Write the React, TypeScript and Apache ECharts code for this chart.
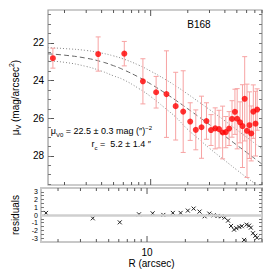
import React, { useEffect, useRef } from 'react';
import * as echarts from 'echarts';

// Observed profile (R in arcsec, mu_V in mag/arcsec^2)
const R = [1.61, 3.75, 6.11, 8.65, 11.07, 13.43, 15.95, 18.36, 20.92, 23.23, 25.85, 28.35, 30.86, 33.37, 35.86, 38.34, 40.7, 43.28, 45.7, 48.25, 50.3, 53.1, 55.55, 57.9, 60.45, 63.3, 65.4, 68.0, 70.9, 73.1];
const MU = [22.81, 22.59, 22.57, 24.04, 24.62, 24.72, 25.36, 25.65, 26.18, 26.62, 26.48, 26.15, 26.63, 26.54, 26.58, 26.76, 26.74, 26.55, 26.04, 25.66, 26.03, 26.22, 26.42, 24.97, 26.67, 26.37, 26.81, 25.65, 26.29, 25.54];
const ERR = [0.53, 0.91, 0.65, 1.2, 0.84, 2.3, 1.8, 2.17, 1.0, 1.06, 1.65, 0.97, 0.82, 1.09, 1.0, 1.4, 0.83, 0.9, 0.97, 1.2, 1.6, 1.09, 2.2, 2.24, 2.48, 1.77, 1.46, 1.42, 1.72, 1.1];
const RESID = [0.27, -0.43, -0.95, 0.09, 0.22, 0.01, 0.27, 0.27, 0.57, 0.83, 0.44, -0.17, 0.18, -0.04, -0.12, -0.17, -0.34, -0.73, -1.42, -1.9, -1.71, -1.55, -1.45, -3.23, -1.25, -1.38, -1.64, -2.36, -2.69, -2.95];

// Fitted curves
const CURVE_R = [1.47, 2, 3, 4, 5, 6, 8, 10, 13, 16, 20, 25, 30, 40, 50, 60, 70, 80];
const FIT = [22.58, 22.65, 22.81, 23.0, 23.21, 23.42, 23.82, 24.18, 24.65, 25.05, 25.5, 25.96, 26.34, 26.95, 27.43, 27.82, 28.15, 28.44];
const UPPER = [22.25, 22.3, 22.4, 22.54, 22.69, 22.85, 23.18, 23.5, 23.92, 24.29, 24.72, 25.17, 25.54, 26.14, 26.62, 27.01, 27.34, 27.63];
const LOWER_R = [1.47, 2, 3, 4, 5, 6, 8, 10, 13, 16, 20, 25, 30, 40, 50, 60, 70];
const LOWER = [22.96, 23.03, 23.25, 23.5, 23.75, 23.95, 24.42, 24.85, 25.45, 25.95, 26.6, 27.15, 27.6, 28.25, 28.75, 29.15, 29.47];

// Axis ticks and labels
const X_TICKS = [2, 3, 4, 5, 6, 7, 8, 9, 10, 20, 30, 40, 50, 60, 70, 80];
const X_LABELS = [10];
const MU_LABELS = [22, 24, 26, 28];
const MU_MINOR = [20.5, 21, 21.5, 22, 22.5, 23, 23.5, 24, 24.5, 25, 25.5, 26, 26.5, 27, 27.5, 28, 28.5, 29, 29.5];
const RES_LABELS = [-3, -2, -1, 0, 1, 2, 3];
const RES_MINOR = [-3, -2.5, -2, -1.5, -1, -0.5, 0, 0.5, 1, 1.5, 2, 2.5, 3];

const FONT = 'Liberation Sans, Arial, sans-serif';

export default function App() {
  const ref = useRef<HTMLDivElement>(null);
  useEffect(() => {
    if (!ref.current) return;
    const chart = echarts.init(ref.current, undefined, { renderer: 'svg' });
    const xCommon = {
      type: 'log' as const,
      logBase: 10,
      min: 1.47,
      max: 80,
      axisLine: { show: false },
      axisTick: { show: false },
      splitLine: { show: false },
    };
    const tickRender = () => (params: any, api: any) => {
      const v = api.value(0);
      const p = api.coord([v, api.value(1)]);
      const cs = params.coordSys;
      const major = X_LABELS.indexOf(v) >= 0;
      const len = major ? 6 : 3;
      const style = { stroke: '#555', lineWidth: 1 };
      return {
        type: 'group',
        children: [
          { type: 'line', shape: { x1: p[0], y1: cs.y + cs.height, x2: p[0], y2: cs.y + cs.height - len }, style },
          { type: 'line', shape: { x1: p[0], y1: cs.y, x2: p[0], y2: cs.y + len }, style },
        ],
      };
    };
    const option: any = {
      animation: false,
      grid: [
        { left: 41, top: 10, right: 8, height: 175, show: true, borderColor: '#999', borderWidth: 1.2 },
        { left: 41, top: 188, right: 8, height: 54, show: true, borderColor: '#c8c8c8', borderWidth: 2 },
      ],
      xAxis: [
        { ...xCommon, gridIndex: 0, axisLabel: { show: false } },
        {
          ...xCommon,
          gridIndex: 1,
          axisLabel: {
            color: '#000', fontSize: 10, fontFamily: FONT, margin: 5,
            formatter: (v: number) => (X_LABELS.some((l) => Math.abs(l - v) < 1e-6) ? String(Math.round(v)) : ''),
          },
          name: 'R (arcsec)',
          nameLocation: 'middle',
          nameGap: 16,
          nameTextStyle: { color: '#000', fontSize: 10, fontFamily: FONT },
        },
      ],
      yAxis: [
        {
          gridIndex: 0, type: 'value', inverse: true, min: 20.25, max: 29.55, position: 'left',
          axisLine: { show: false }, splitLine: { show: false },
          axisTick: { show: true, inside: true, length: 6, customValues: MU_LABELS, lineStyle: { color: '#555' } },
          axisLabel: { customValues: MU_LABELS, color: '#000', fontSize: 10, fontFamily: FONT, margin: 4 },
          name: '{a|μ}{s|V}{a| (mag/arcsec}{p|2}{a|)}',
          nameLocation: 'middle', nameGap: 22, nameRotate: 90,
          nameTextStyle: {
            color: '#000', fontFamily: FONT,
            rich: {
              a: { fontSize: 10, fontFamily: FONT, color: '#000', lineHeight: 14, verticalAlign: 'middle' },
              s: { fontSize: 7, fontFamily: FONT, color: '#000', lineHeight: 14, verticalAlign: 'bottom' },
              p: { fontSize: 7, fontFamily: FONT, color: '#000', lineHeight: 14, verticalAlign: 'top' },
            },
          },
        },
        {
          gridIndex: 0, type: 'value', inverse: true, min: 20.25, max: 29.55, position: 'left',
          axisLine: { show: false }, splitLine: { show: false }, axisLabel: { show: false },
          axisTick: { show: true, inside: true, length: 3, customValues: MU_MINOR, lineStyle: { color: '#777' } },
        },
        {
          gridIndex: 0, type: 'value', inverse: true, min: 20.25, max: 29.55, position: 'right',
          axisLine: { show: false }, splitLine: { show: false }, axisLabel: { show: false },
          axisTick: { show: true, inside: true, length: 3, customValues: MU_MINOR, lineStyle: { color: '#777' } },
        },
        {
          gridIndex: 1, type: 'value', min: -3.5, max: 3.5, position: 'left',
          axisLine: { show: false }, splitLine: { show: false },
          axisTick: { show: true, inside: true, length: 3, customValues: RES_MINOR, lineStyle: { color: '#777' } },
          axisLabel: { customValues: RES_LABELS, color: '#000', fontSize: 7, lineHeight: 7, fontFamily: FONT, margin: 3, hideOverlap: false },
          name: 'residuals', nameLocation: 'middle', nameGap: 20,
          nameTextStyle: { color: '#000', fontSize: 10, fontFamily: FONT },
        },
        {
          gridIndex: 1, type: 'value', min: -3.5, max: 3.5, position: 'right',
          axisLine: { show: false }, splitLine: { show: false }, axisLabel: { show: false },
          axisTick: { show: true, inside: true, length: 3, customValues: RES_MINOR, lineStyle: { color: '#777' } },
        },
      ],
      series: [
        {
          type: 'line', xAxisIndex: 0, yAxisIndex: 0, showSymbol: false, smooth: true,
          data: CURVE_R.map((r, i) => [r, UPPER[i]]),
          lineStyle: { color: '#888', width: 1, type: [1, 2] }, z: 2,
        },
        {
          type: 'line', xAxisIndex: 0, yAxisIndex: 0, showSymbol: false, smooth: true,
          data: CURVE_R.map((r, i) => [r, FIT[i]]),
          lineStyle: { color: '#666', width: 1, type: [5, 3] }, z: 2,
        },
        {
          type: 'line', xAxisIndex: 0, yAxisIndex: 0, showSymbol: false, smooth: true,
          data: LOWER_R.map((r, i) => [r, LOWER[i]]),
          lineStyle: { color: '#888', width: 1, type: [1, 2] }, z: 2,
        },
        {
          type: 'custom', xAxisIndex: 0, yAxisIndex: 0, z: 3,
          data: R.map((r, i) => [r, MU[i] - ERR[i], MU[i] + ERR[i]]),
          renderItem: (params: any, api: any) => {
            const x = api.value(0);
            const a = api.coord([x, api.value(1)]);
            const b = api.coord([x, api.value(2)]);
            const style = { stroke: '#f7a3a3', lineWidth: 1 };
            const w = 2.5;
            return {
              type: 'group',
              children: [
                { type: 'line', shape: { x1: a[0], y1: a[1], x2: b[0], y2: b[1] }, style },
                { type: 'line', shape: { x1: a[0] - w, y1: a[1], x2: a[0] + w, y2: a[1] }, style },
                { type: 'line', shape: { x1: b[0] - w, y1: b[1], x2: b[0] + w, y2: b[1] }, style },
              ],
            };
          },
        },
        {
          type: 'scatter', xAxisIndex: 0, yAxisIndex: 0, z: 4,
          symbol: 'circle', symbolSize: 6,
          itemStyle: { color: '#ff0000' },
          data: R.map((r, i) => [r, MU[i]]),
        },
        {
          type: 'custom', xAxisIndex: 0, yAxisIndex: 0, z: 5,
          data: X_TICKS.map((t) => [t, 25]),
          renderItem: tickRender(),
        },
        {
          type: 'custom', xAxisIndex: 1, yAxisIndex: 3, z: 5,
          data: X_TICKS.map((t) => [t, 0]),
          renderItem: tickRender(),
        },
        {
          type: 'custom', xAxisIndex: 1, yAxisIndex: 3, z: 4,
          data: R.map((r, i) => [r, RESID[i]]),
          renderItem: (params: any, api: any) => {
            const p = api.coord([api.value(0), api.value(1)]);
            const h = 2;
            const style = { stroke: '#222', lineWidth: 1 };
            return {
              type: 'group',
              children: [
                { type: 'line', shape: { x1: p[0] - h, y1: p[1] - h, x2: p[0] + h, y2: p[1] + h }, style },
                { type: 'line', shape: { x1: p[0] - h, y1: p[1] + h, x2: p[0] + h, y2: p[1] - h }, style },
              ],
            };
          },
          markLine: {
            silent: true, symbol: 'none', label: { show: false },
            lineStyle: { color: '#cfcfcf', width: 2.5, type: 'solid' },
            data: [{ yAxis: 0 }],
          },
        },
      ],
      graphic: [
        {
          type: 'text', x: 199, y: 24, z: 10,
          style: { text: 'B168', fontSize: 10, fontFamily: FONT, fill: '#000', align: 'center', verticalAlign: 'middle' },
        },
        {
          type: 'text', x: 152, y: 131, z: 10,
          style: {
            text: '{a|μ}{s|V0}{a| = 22.5 ± 0.3 mag (″)}{p|−2}',
            align: 'right', verticalAlign: 'middle',
            rich: {
              a: { fontSize: 9, fontFamily: FONT, fill: '#000', lineHeight: 13, verticalAlign: 'middle' },
              s: { fontSize: 6, fontFamily: FONT, fill: '#000', lineHeight: 13, verticalAlign: 'bottom' },
              p: { fontSize: 6, fontFamily: FONT, fill: '#000', lineHeight: 13, verticalAlign: 'top' },
            },
          },
        },
        {
          type: 'text', x: 151, y: 144, z: 10,
          style: {
            text: '{a|r}{s|c}{a| =  5.2 ± 1.4 ″}',
            align: 'right', verticalAlign: 'middle',
            rich: {
              a: { fontSize: 9, fontFamily: FONT, fill: '#000', lineHeight: 13, verticalAlign: 'middle' },
              s: { fontSize: 6, fontFamily: FONT, fill: '#000', lineHeight: 13, verticalAlign: 'bottom' },
            },
          },
        },
      ],
    };
    chart.setOption(option);
    return () => chart.dispose();
  }, []);
  return <div ref={ref} style={{ position: 'absolute', left: 0, top: 0, width: 270, height: 270, background: '#fff' }} />;
}
